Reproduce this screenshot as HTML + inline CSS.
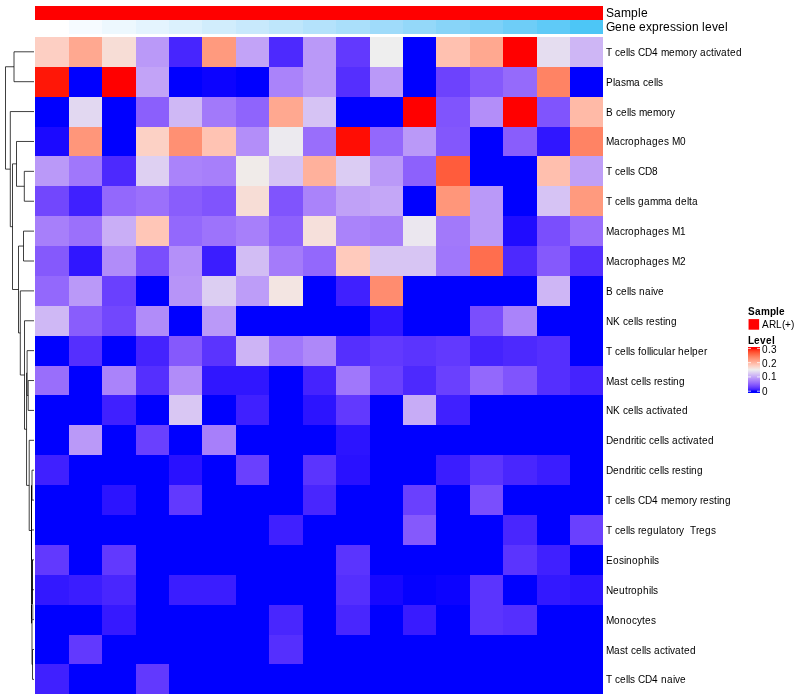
<!DOCTYPE html>
<html><head><meta charset="utf-8"><title>Heatmap</title>
<style>html,body{margin:0;padding:0;background:#fff}svg{display:block}text{white-space:pre;font-family:"Liberation Sans",sans-serif;fill:#000}</style></head><body>
<svg width="800" height="700" viewBox="0 0 800 700">
<rect width="800" height="700" fill="#fff"/>
<g shape-rendering="crispEdges">
<rect x="35" y="6" width="568" height="14" fill="#FF0000"/>
<rect x="35" y="20" width="34" height="14" fill="#FFFFFF"/>
<rect x="69" y="20" width="33" height="14" fill="#F6FBFF"/>
<rect x="102" y="20" width="34" height="14" fill="#EDF8FE"/>
<rect x="136" y="20" width="33" height="14" fill="#E4F4FE"/>
<rect x="169" y="20" width="33" height="14" fill="#DBF1FD"/>
<rect x="202" y="20" width="34" height="14" fill="#D1EDFC"/>
<rect x="236" y="20" width="33" height="14" fill="#C8E9FC"/>
<rect x="269" y="20" width="34" height="14" fill="#BEE6FB"/>
<rect x="303" y="20" width="33" height="14" fill="#B4E2FB"/>
<rect x="336" y="20" width="34" height="14" fill="#AADFFA"/>
<rect x="370" y="20" width="33" height="14" fill="#9FDBFA"/>
<rect x="403" y="20" width="33" height="14" fill="#94D8F9"/>
<rect x="436" y="20" width="34" height="14" fill="#88D4F8"/>
<rect x="470" y="20" width="33" height="14" fill="#7CD1F8"/>
<rect x="503" y="20" width="34" height="14" fill="#6ECDF7"/>
<rect x="537" y="20" width="33" height="14" fill="#5FCAF7"/>
<rect x="570" y="20" width="33" height="14" fill="#4DC6F6"/>
<rect x="35" y="37" width="34" height="30" fill="#FDCFC3"/>
<rect x="69" y="37" width="33" height="30" fill="#FFA890"/>
<rect x="102" y="37" width="34" height="30" fill="#F7DDD6"/>
<rect x="136" y="37" width="33" height="30" fill="#BA99F8"/>
<rect x="169" y="37" width="33" height="30" fill="#4725FE"/>
<rect x="202" y="37" width="34" height="30" fill="#FF9A7E"/>
<rect x="236" y="37" width="33" height="30" fill="#C2A3F7"/>
<rect x="269" y="37" width="34" height="30" fill="#4D29FE"/>
<rect x="303" y="37" width="33" height="30" fill="#BA99F8"/>
<rect x="336" y="37" width="34" height="30" fill="#6239FE"/>
<rect x="370" y="37" width="33" height="30" fill="#EEEEEE"/>
<rect x="403" y="37" width="33" height="30" fill="#0000FF"/>
<rect x="436" y="37" width="34" height="30" fill="#FFC1B0"/>
<rect x="470" y="37" width="33" height="30" fill="#FFA890"/>
<rect x="503" y="37" width="34" height="30" fill="#FF0000"/>
<rect x="537" y="37" width="33" height="30" fill="#E5DDF0"/>
<rect x="570" y="37" width="33" height="30" fill="#CEB6F5"/>
<rect x="35" y="67" width="34" height="30" fill="#FF1707"/>
<rect x="69" y="67" width="33" height="30" fill="#0000FF"/>
<rect x="102" y="67" width="34" height="30" fill="#FF0000"/>
<rect x="136" y="67" width="33" height="30" fill="#C2A3F7"/>
<rect x="169" y="67" width="33" height="30" fill="#0000FF"/>
<rect x="202" y="67" width="34" height="30" fill="#0C03FF"/>
<rect x="236" y="67" width="33" height="30" fill="#0000FF"/>
<rect x="269" y="67" width="34" height="30" fill="#AA83FA"/>
<rect x="303" y="67" width="33" height="30" fill="#BA99F8"/>
<rect x="336" y="67" width="34" height="30" fill="#552FFE"/>
<rect x="370" y="67" width="33" height="30" fill="#BA99F8"/>
<rect x="403" y="67" width="33" height="30" fill="#0000FF"/>
<rect x="436" y="67" width="34" height="30" fill="#6D42FD"/>
<rect x="470" y="67" width="33" height="30" fill="#8559FC"/>
<rect x="503" y="67" width="34" height="30" fill="#956AFB"/>
<rect x="537" y="67" width="33" height="30" fill="#FF8364"/>
<rect x="570" y="67" width="33" height="30" fill="#0000FF"/>
<rect x="35" y="97" width="34" height="30" fill="#0000FF"/>
<rect x="69" y="97" width="33" height="30" fill="#E2D8F1"/>
<rect x="102" y="97" width="34" height="30" fill="#0000FF"/>
<rect x="136" y="97" width="33" height="30" fill="#8B5FFC"/>
<rect x="169" y="97" width="33" height="30" fill="#CFB8F5"/>
<rect x="202" y="97" width="34" height="30" fill="#A279FA"/>
<rect x="236" y="97" width="33" height="30" fill="#8F64FC"/>
<rect x="269" y="97" width="34" height="30" fill="#FFA890"/>
<rect x="303" y="97" width="33" height="30" fill="#D6C3F4"/>
<rect x="336" y="97" width="34" height="30" fill="#0000FF"/>
<rect x="370" y="97" width="33" height="30" fill="#0000FF"/>
<rect x="403" y="97" width="33" height="30" fill="#FF0000"/>
<rect x="436" y="97" width="34" height="30" fill="#8054FD"/>
<rect x="470" y="97" width="33" height="30" fill="#B38EF9"/>
<rect x="503" y="97" width="34" height="30" fill="#FF0000"/>
<rect x="537" y="97" width="33" height="30" fill="#8054FD"/>
<rect x="570" y="97" width="33" height="30" fill="#FFBAA7"/>
<rect x="35" y="127" width="34" height="29" fill="#1B09FF"/>
<rect x="69" y="127" width="33" height="29" fill="#FF967A"/>
<rect x="102" y="127" width="34" height="29" fill="#0000FF"/>
<rect x="136" y="127" width="33" height="29" fill="#FCD1C5"/>
<rect x="169" y="127" width="33" height="29" fill="#FF9073"/>
<rect x="202" y="127" width="34" height="29" fill="#FFC3B3"/>
<rect x="236" y="127" width="33" height="29" fill="#B38EF9"/>
<rect x="269" y="127" width="34" height="29" fill="#ECEAEF"/>
<rect x="303" y="127" width="33" height="29" fill="#996EFB"/>
<rect x="336" y="127" width="34" height="29" fill="#FF0D04"/>
<rect x="370" y="127" width="33" height="29" fill="#9368FC"/>
<rect x="403" y="127" width="33" height="29" fill="#BA99F8"/>
<rect x="436" y="127" width="34" height="29" fill="#8357FC"/>
<rect x="470" y="127" width="33" height="29" fill="#0000FF"/>
<rect x="503" y="127" width="34" height="29" fill="#895DFC"/>
<rect x="537" y="127" width="33" height="29" fill="#3016FF"/>
<rect x="570" y="127" width="33" height="29" fill="#FF8364"/>
<rect x="35" y="156" width="34" height="30" fill="#BA99F8"/>
<rect x="69" y="156" width="33" height="30" fill="#A077FB"/>
<rect x="102" y="156" width="34" height="30" fill="#4D29FE"/>
<rect x="136" y="156" width="33" height="30" fill="#DED0F2"/>
<rect x="169" y="156" width="33" height="30" fill="#AA83FA"/>
<rect x="202" y="156" width="34" height="30" fill="#A77FFA"/>
<rect x="236" y="156" width="33" height="30" fill="#F0EBE9"/>
<rect x="269" y="156" width="34" height="30" fill="#D6C3F4"/>
<rect x="303" y="156" width="33" height="30" fill="#FFB19C"/>
<rect x="336" y="156" width="34" height="30" fill="#DBCCF3"/>
<rect x="370" y="156" width="33" height="30" fill="#BA99F8"/>
<rect x="403" y="156" width="33" height="30" fill="#8D61FC"/>
<rect x="436" y="156" width="34" height="30" fill="#FF5C3C"/>
<rect x="470" y="156" width="33" height="30" fill="#0000FF"/>
<rect x="503" y="156" width="34" height="30" fill="#0000FF"/>
<rect x="537" y="156" width="33" height="30" fill="#FFBFAE"/>
<rect x="570" y="156" width="33" height="30" fill="#BF9FF7"/>
<rect x="35" y="186" width="34" height="30" fill="#7247FD"/>
<rect x="69" y="186" width="33" height="30" fill="#4020FF"/>
<rect x="102" y="186" width="34" height="30" fill="#9368FC"/>
<rect x="136" y="186" width="33" height="30" fill="#9B70FB"/>
<rect x="169" y="186" width="33" height="30" fill="#895DFC"/>
<rect x="202" y="186" width="34" height="30" fill="#8054FD"/>
<rect x="236" y="186" width="33" height="30" fill="#F7DDD6"/>
<rect x="269" y="186" width="34" height="30" fill="#8054FD"/>
<rect x="303" y="186" width="33" height="30" fill="#AA83FA"/>
<rect x="336" y="186" width="34" height="30" fill="#C0A1F7"/>
<rect x="370" y="186" width="33" height="30" fill="#C4A7F7"/>
<rect x="403" y="186" width="33" height="30" fill="#0000FF"/>
<rect x="436" y="186" width="34" height="30" fill="#FF967A"/>
<rect x="470" y="186" width="33" height="30" fill="#BA99F8"/>
<rect x="503" y="186" width="34" height="30" fill="#0000FF"/>
<rect x="537" y="186" width="33" height="30" fill="#D6C3F4"/>
<rect x="570" y="186" width="33" height="30" fill="#FF9A7E"/>
<rect x="35" y="216" width="34" height="30" fill="#A77FFA"/>
<rect x="69" y="216" width="33" height="30" fill="#9B70FB"/>
<rect x="102" y="216" width="34" height="30" fill="#C9AEF6"/>
<rect x="136" y="216" width="33" height="30" fill="#FFC6B7"/>
<rect x="169" y="216" width="33" height="30" fill="#9368FC"/>
<rect x="202" y="216" width="34" height="30" fill="#9D73FB"/>
<rect x="236" y="216" width="33" height="30" fill="#A77FFA"/>
<rect x="269" y="216" width="34" height="30" fill="#8D61FC"/>
<rect x="303" y="216" width="33" height="30" fill="#F6E0DB"/>
<rect x="336" y="216" width="34" height="30" fill="#AA83FA"/>
<rect x="370" y="216" width="33" height="30" fill="#A57DFA"/>
<rect x="403" y="216" width="33" height="30" fill="#EBE7EF"/>
<rect x="436" y="216" width="34" height="30" fill="#A279FA"/>
<rect x="470" y="216" width="33" height="30" fill="#BA99F8"/>
<rect x="503" y="216" width="34" height="30" fill="#200CFF"/>
<rect x="537" y="216" width="33" height="30" fill="#7A4EFD"/>
<rect x="570" y="216" width="33" height="30" fill="#996EFB"/>
<rect x="35" y="246" width="34" height="30" fill="#8559FC"/>
<rect x="69" y="246" width="33" height="30" fill="#3016FF"/>
<rect x="102" y="246" width="34" height="30" fill="#B18CF9"/>
<rect x="136" y="246" width="33" height="30" fill="#7A4EFD"/>
<rect x="169" y="246" width="33" height="30" fill="#B490F9"/>
<rect x="202" y="246" width="34" height="30" fill="#3B1DFF"/>
<rect x="236" y="246" width="33" height="30" fill="#D2BDF4"/>
<rect x="269" y="246" width="34" height="30" fill="#A47BFA"/>
<rect x="303" y="246" width="33" height="30" fill="#9368FC"/>
<rect x="336" y="246" width="34" height="30" fill="#FFCABC"/>
<rect x="370" y="246" width="33" height="30" fill="#D7C5F3"/>
<rect x="403" y="246" width="33" height="30" fill="#D7C5F3"/>
<rect x="436" y="246" width="34" height="30" fill="#A077FB"/>
<rect x="470" y="246" width="33" height="30" fill="#FF6E4E"/>
<rect x="503" y="246" width="34" height="30" fill="#4D29FE"/>
<rect x="537" y="246" width="33" height="30" fill="#8559FC"/>
<rect x="570" y="246" width="33" height="30" fill="#552FFE"/>
<rect x="35" y="276" width="34" height="30" fill="#9368FC"/>
<rect x="69" y="276" width="33" height="30" fill="#BA99F8"/>
<rect x="102" y="276" width="34" height="30" fill="#6A40FE"/>
<rect x="136" y="276" width="33" height="30" fill="#0000FF"/>
<rect x="169" y="276" width="33" height="30" fill="#B794F8"/>
<rect x="202" y="276" width="34" height="30" fill="#DCCEF2"/>
<rect x="236" y="276" width="33" height="30" fill="#BD9DF8"/>
<rect x="269" y="276" width="34" height="30" fill="#F3E5E2"/>
<rect x="303" y="276" width="33" height="30" fill="#0000FF"/>
<rect x="336" y="276" width="34" height="30" fill="#4020FF"/>
<rect x="370" y="276" width="33" height="30" fill="#FF8C6F"/>
<rect x="403" y="276" width="33" height="30" fill="#0000FF"/>
<rect x="436" y="276" width="34" height="30" fill="#0000FF"/>
<rect x="470" y="276" width="33" height="30" fill="#0000FF"/>
<rect x="503" y="276" width="34" height="30" fill="#0000FF"/>
<rect x="537" y="276" width="33" height="30" fill="#CEB6F5"/>
<rect x="570" y="276" width="33" height="30" fill="#0000FF"/>
<rect x="35" y="306" width="34" height="30" fill="#CFB8F5"/>
<rect x="69" y="306" width="33" height="30" fill="#895DFC"/>
<rect x="102" y="306" width="34" height="30" fill="#7247FD"/>
<rect x="136" y="306" width="33" height="30" fill="#B18CF9"/>
<rect x="169" y="306" width="33" height="30" fill="#0000FF"/>
<rect x="202" y="306" width="34" height="30" fill="#BA99F8"/>
<rect x="236" y="306" width="33" height="30" fill="#0000FF"/>
<rect x="269" y="306" width="34" height="30" fill="#0000FF"/>
<rect x="303" y="306" width="33" height="30" fill="#0000FF"/>
<rect x="336" y="306" width="34" height="30" fill="#0000FF"/>
<rect x="370" y="306" width="33" height="30" fill="#3016FF"/>
<rect x="403" y="306" width="33" height="30" fill="#0000FF"/>
<rect x="436" y="306" width="34" height="30" fill="#0000FF"/>
<rect x="470" y="306" width="33" height="30" fill="#7A4EFD"/>
<rect x="503" y="306" width="34" height="30" fill="#AA83FA"/>
<rect x="537" y="306" width="33" height="30" fill="#0000FF"/>
<rect x="570" y="306" width="33" height="30" fill="#0000FF"/>
<rect x="35" y="336" width="34" height="30" fill="#0000FF"/>
<rect x="69" y="336" width="33" height="30" fill="#552FFE"/>
<rect x="102" y="336" width="34" height="30" fill="#0000FF"/>
<rect x="136" y="336" width="33" height="30" fill="#4523FE"/>
<rect x="169" y="336" width="33" height="30" fill="#8559FC"/>
<rect x="202" y="336" width="34" height="30" fill="#5B34FE"/>
<rect x="236" y="336" width="33" height="30" fill="#CDB4F5"/>
<rect x="269" y="336" width="34" height="30" fill="#A077FB"/>
<rect x="303" y="336" width="33" height="30" fill="#AE88F9"/>
<rect x="336" y="336" width="34" height="30" fill="#552FFE"/>
<rect x="370" y="336" width="33" height="30" fill="#6239FE"/>
<rect x="403" y="336" width="33" height="30" fill="#5B34FE"/>
<rect x="436" y="336" width="34" height="30" fill="#6239FE"/>
<rect x="470" y="336" width="33" height="30" fill="#4523FE"/>
<rect x="503" y="336" width="34" height="30" fill="#4D29FE"/>
<rect x="537" y="336" width="33" height="30" fill="#552FFE"/>
<rect x="570" y="336" width="33" height="30" fill="#0000FF"/>
<rect x="35" y="366" width="34" height="29" fill="#996EFB"/>
<rect x="69" y="366" width="33" height="29" fill="#0000FF"/>
<rect x="102" y="366" width="34" height="29" fill="#AA83FA"/>
<rect x="136" y="366" width="33" height="29" fill="#552FFE"/>
<rect x="169" y="366" width="33" height="29" fill="#B18CF9"/>
<rect x="202" y="366" width="34" height="29" fill="#3016FF"/>
<rect x="236" y="366" width="33" height="29" fill="#3016FF"/>
<rect x="269" y="366" width="34" height="29" fill="#0000FF"/>
<rect x="303" y="366" width="33" height="29" fill="#4523FE"/>
<rect x="336" y="366" width="34" height="29" fill="#A077FB"/>
<rect x="370" y="366" width="33" height="29" fill="#6A40FE"/>
<rect x="403" y="366" width="33" height="29" fill="#4D29FE"/>
<rect x="436" y="366" width="34" height="29" fill="#6A40FE"/>
<rect x="470" y="366" width="33" height="29" fill="#9368FC"/>
<rect x="503" y="366" width="34" height="29" fill="#8054FD"/>
<rect x="537" y="366" width="33" height="29" fill="#552FFE"/>
<rect x="570" y="366" width="33" height="29" fill="#4523FE"/>
<rect x="35" y="395" width="34" height="30" fill="#0000FF"/>
<rect x="69" y="395" width="33" height="30" fill="#0000FF"/>
<rect x="102" y="395" width="34" height="30" fill="#4020FF"/>
<rect x="136" y="395" width="33" height="30" fill="#0000FF"/>
<rect x="169" y="395" width="33" height="30" fill="#D9C7F3"/>
<rect x="202" y="395" width="34" height="30" fill="#0000FF"/>
<rect x="236" y="395" width="33" height="30" fill="#4020FF"/>
<rect x="269" y="395" width="34" height="30" fill="#0000FF"/>
<rect x="303" y="395" width="33" height="30" fill="#2C14FF"/>
<rect x="336" y="395" width="34" height="30" fill="#6239FE"/>
<rect x="370" y="395" width="33" height="30" fill="#0000FF"/>
<rect x="403" y="395" width="33" height="30" fill="#C7ACF6"/>
<rect x="436" y="395" width="34" height="30" fill="#4020FF"/>
<rect x="470" y="395" width="33" height="30" fill="#0000FF"/>
<rect x="503" y="395" width="34" height="30" fill="#0000FF"/>
<rect x="537" y="395" width="33" height="30" fill="#0000FF"/>
<rect x="570" y="395" width="33" height="30" fill="#0000FF"/>
<rect x="35" y="425" width="34" height="30" fill="#0000FF"/>
<rect x="69" y="425" width="33" height="30" fill="#BA99F8"/>
<rect x="102" y="425" width="34" height="30" fill="#0000FF"/>
<rect x="136" y="425" width="33" height="30" fill="#6A40FE"/>
<rect x="169" y="425" width="33" height="30" fill="#0000FF"/>
<rect x="202" y="425" width="34" height="30" fill="#A77FFA"/>
<rect x="236" y="425" width="33" height="30" fill="#0000FF"/>
<rect x="269" y="425" width="34" height="30" fill="#0000FF"/>
<rect x="303" y="425" width="33" height="30" fill="#0000FF"/>
<rect x="336" y="425" width="34" height="30" fill="#2C14FF"/>
<rect x="370" y="425" width="33" height="30" fill="#0000FF"/>
<rect x="403" y="425" width="33" height="30" fill="#0000FF"/>
<rect x="436" y="425" width="34" height="30" fill="#0000FF"/>
<rect x="470" y="425" width="33" height="30" fill="#0000FF"/>
<rect x="503" y="425" width="34" height="30" fill="#0000FF"/>
<rect x="537" y="425" width="33" height="30" fill="#0000FF"/>
<rect x="570" y="425" width="33" height="30" fill="#0000FF"/>
<rect x="35" y="455" width="34" height="30" fill="#4020FF"/>
<rect x="69" y="455" width="33" height="30" fill="#0000FF"/>
<rect x="102" y="455" width="34" height="30" fill="#0000FF"/>
<rect x="136" y="455" width="33" height="30" fill="#0000FF"/>
<rect x="169" y="455" width="33" height="30" fill="#2911FF"/>
<rect x="202" y="455" width="34" height="30" fill="#0000FF"/>
<rect x="236" y="455" width="33" height="30" fill="#6A40FE"/>
<rect x="269" y="455" width="34" height="30" fill="#0000FF"/>
<rect x="303" y="455" width="33" height="30" fill="#5B34FE"/>
<rect x="336" y="455" width="34" height="30" fill="#2911FF"/>
<rect x="370" y="455" width="33" height="30" fill="#0000FF"/>
<rect x="403" y="455" width="33" height="30" fill="#0000FF"/>
<rect x="436" y="455" width="34" height="30" fill="#3B1DFF"/>
<rect x="470" y="455" width="33" height="30" fill="#5B34FE"/>
<rect x="503" y="455" width="34" height="30" fill="#4926FE"/>
<rect x="537" y="455" width="33" height="30" fill="#3B1DFF"/>
<rect x="570" y="455" width="33" height="30" fill="#0000FF"/>
<rect x="35" y="485" width="34" height="30" fill="#0000FF"/>
<rect x="69" y="485" width="33" height="30" fill="#0000FF"/>
<rect x="102" y="485" width="34" height="30" fill="#2C14FF"/>
<rect x="136" y="485" width="33" height="30" fill="#0000FF"/>
<rect x="169" y="485" width="33" height="30" fill="#6239FE"/>
<rect x="202" y="485" width="34" height="30" fill="#0000FF"/>
<rect x="236" y="485" width="33" height="30" fill="#0000FF"/>
<rect x="269" y="485" width="34" height="30" fill="#0000FF"/>
<rect x="303" y="485" width="33" height="30" fill="#4926FE"/>
<rect x="336" y="485" width="34" height="30" fill="#0000FF"/>
<rect x="370" y="485" width="33" height="30" fill="#0000FF"/>
<rect x="403" y="485" width="33" height="30" fill="#6A40FE"/>
<rect x="436" y="485" width="34" height="30" fill="#0000FF"/>
<rect x="470" y="485" width="33" height="30" fill="#7A4EFD"/>
<rect x="503" y="485" width="34" height="30" fill="#0000FF"/>
<rect x="537" y="485" width="33" height="30" fill="#0000FF"/>
<rect x="570" y="485" width="33" height="30" fill="#0000FF"/>
<rect x="35" y="515" width="34" height="30" fill="#0000FF"/>
<rect x="69" y="515" width="33" height="30" fill="#0000FF"/>
<rect x="102" y="515" width="34" height="30" fill="#0000FF"/>
<rect x="136" y="515" width="33" height="30" fill="#0000FF"/>
<rect x="169" y="515" width="33" height="30" fill="#0000FF"/>
<rect x="202" y="515" width="34" height="30" fill="#0000FF"/>
<rect x="236" y="515" width="33" height="30" fill="#0000FF"/>
<rect x="269" y="515" width="34" height="30" fill="#4020FF"/>
<rect x="303" y="515" width="33" height="30" fill="#0000FF"/>
<rect x="336" y="515" width="34" height="30" fill="#0000FF"/>
<rect x="370" y="515" width="33" height="30" fill="#0000FF"/>
<rect x="403" y="515" width="33" height="30" fill="#8559FC"/>
<rect x="436" y="515" width="34" height="30" fill="#0000FF"/>
<rect x="470" y="515" width="33" height="30" fill="#0000FF"/>
<rect x="503" y="515" width="34" height="30" fill="#4926FE"/>
<rect x="537" y="515" width="33" height="30" fill="#0000FF"/>
<rect x="570" y="515" width="33" height="30" fill="#6A40FE"/>
<rect x="35" y="545" width="34" height="30" fill="#6239FE"/>
<rect x="69" y="545" width="33" height="30" fill="#0000FF"/>
<rect x="102" y="545" width="34" height="30" fill="#6239FE"/>
<rect x="136" y="545" width="33" height="30" fill="#0000FF"/>
<rect x="169" y="545" width="33" height="30" fill="#0000FF"/>
<rect x="202" y="545" width="34" height="30" fill="#0000FF"/>
<rect x="236" y="545" width="33" height="30" fill="#0000FF"/>
<rect x="269" y="545" width="34" height="30" fill="#0000FF"/>
<rect x="303" y="545" width="33" height="30" fill="#0000FF"/>
<rect x="336" y="545" width="34" height="30" fill="#5B34FE"/>
<rect x="370" y="545" width="33" height="30" fill="#0000FF"/>
<rect x="403" y="545" width="33" height="30" fill="#0000FF"/>
<rect x="436" y="545" width="34" height="30" fill="#0000FF"/>
<rect x="470" y="545" width="33" height="30" fill="#0000FF"/>
<rect x="503" y="545" width="34" height="30" fill="#5B34FE"/>
<rect x="537" y="545" width="33" height="30" fill="#4020FF"/>
<rect x="570" y="545" width="33" height="30" fill="#0000FF"/>
<rect x="35" y="575" width="34" height="30" fill="#3318FF"/>
<rect x="69" y="575" width="33" height="30" fill="#3B1DFF"/>
<rect x="102" y="575" width="34" height="30" fill="#4926FE"/>
<rect x="136" y="575" width="33" height="30" fill="#0000FF"/>
<rect x="169" y="575" width="33" height="30" fill="#3B1DFF"/>
<rect x="202" y="575" width="34" height="30" fill="#3B1DFF"/>
<rect x="236" y="575" width="33" height="30" fill="#0000FF"/>
<rect x="269" y="575" width="34" height="30" fill="#0000FF"/>
<rect x="303" y="575" width="33" height="30" fill="#0000FF"/>
<rect x="336" y="575" width="34" height="30" fill="#552FFE"/>
<rect x="370" y="575" width="33" height="30" fill="#1707FF"/>
<rect x="403" y="575" width="33" height="30" fill="#0501FF"/>
<rect x="436" y="575" width="34" height="30" fill="#0C03FF"/>
<rect x="470" y="575" width="33" height="30" fill="#5B34FE"/>
<rect x="503" y="575" width="34" height="30" fill="#0000FF"/>
<rect x="537" y="575" width="33" height="30" fill="#3318FF"/>
<rect x="570" y="575" width="33" height="30" fill="#2C14FF"/>
<rect x="35" y="605" width="34" height="30" fill="#0000FF"/>
<rect x="69" y="605" width="33" height="30" fill="#0000FF"/>
<rect x="102" y="605" width="34" height="30" fill="#3619FF"/>
<rect x="136" y="605" width="33" height="30" fill="#0000FF"/>
<rect x="169" y="605" width="33" height="30" fill="#0000FF"/>
<rect x="202" y="605" width="34" height="30" fill="#0000FF"/>
<rect x="236" y="605" width="33" height="30" fill="#0000FF"/>
<rect x="269" y="605" width="34" height="30" fill="#4926FE"/>
<rect x="303" y="605" width="33" height="30" fill="#0000FF"/>
<rect x="336" y="605" width="34" height="30" fill="#4926FE"/>
<rect x="370" y="605" width="33" height="30" fill="#0000FF"/>
<rect x="403" y="605" width="33" height="30" fill="#391BFF"/>
<rect x="436" y="605" width="34" height="30" fill="#0000FF"/>
<rect x="470" y="605" width="33" height="30" fill="#5B34FE"/>
<rect x="503" y="605" width="34" height="30" fill="#552FFE"/>
<rect x="537" y="605" width="33" height="30" fill="#0000FF"/>
<rect x="570" y="605" width="33" height="30" fill="#0000FF"/>
<rect x="35" y="635" width="34" height="29" fill="#0000FF"/>
<rect x="69" y="635" width="33" height="29" fill="#6239FE"/>
<rect x="102" y="635" width="34" height="29" fill="#0000FF"/>
<rect x="136" y="635" width="33" height="29" fill="#0000FF"/>
<rect x="169" y="635" width="33" height="29" fill="#0000FF"/>
<rect x="202" y="635" width="34" height="29" fill="#0000FF"/>
<rect x="236" y="635" width="33" height="29" fill="#0000FF"/>
<rect x="269" y="635" width="34" height="29" fill="#552FFE"/>
<rect x="303" y="635" width="33" height="29" fill="#0000FF"/>
<rect x="336" y="635" width="34" height="29" fill="#0000FF"/>
<rect x="370" y="635" width="33" height="29" fill="#0000FF"/>
<rect x="403" y="635" width="33" height="29" fill="#0000FF"/>
<rect x="436" y="635" width="34" height="29" fill="#0000FF"/>
<rect x="470" y="635" width="33" height="29" fill="#0000FF"/>
<rect x="503" y="635" width="34" height="29" fill="#0000FF"/>
<rect x="537" y="635" width="33" height="29" fill="#0000FF"/>
<rect x="570" y="635" width="33" height="29" fill="#0000FF"/>
<rect x="35" y="664" width="34" height="30" fill="#4020FF"/>
<rect x="69" y="664" width="33" height="30" fill="#0000FF"/>
<rect x="102" y="664" width="34" height="30" fill="#0000FF"/>
<rect x="136" y="664" width="33" height="30" fill="#6239FE"/>
<rect x="169" y="664" width="33" height="30" fill="#0000FF"/>
<rect x="202" y="664" width="34" height="30" fill="#0000FF"/>
<rect x="236" y="664" width="33" height="30" fill="#0000FF"/>
<rect x="269" y="664" width="34" height="30" fill="#0000FF"/>
<rect x="303" y="664" width="33" height="30" fill="#0000FF"/>
<rect x="336" y="664" width="34" height="30" fill="#0000FF"/>
<rect x="370" y="664" width="33" height="30" fill="#0000FF"/>
<rect x="403" y="664" width="33" height="30" fill="#0000FF"/>
<rect x="436" y="664" width="34" height="30" fill="#0000FF"/>
<rect x="470" y="664" width="33" height="30" fill="#0000FF"/>
<rect x="503" y="664" width="34" height="30" fill="#0000FF"/>
<rect x="537" y="664" width="33" height="30" fill="#0000FF"/>
<rect x="570" y="664" width="33" height="30" fill="#0000FF"/>
</g>
<text x="606 614 621 631 638 641" y="17" font-size="12" xml:space="preserve">Sample</text>
<text x="606 615 622 629 636 639 646 652 659 663 670 676 682 685 692 699 702 705 712 718 725" y="31" font-size="12" xml:space="preserve">Gene expression level</text>
<g font-size="10">
<text x="606 612 615 620 626 628 630 635 638 645 652 658 661 669 675 683 689 692 697 700 706 711 714 716 721 727 730 736" y="56" font-size="10" xml:space="preserve">T cells CD4 memory activated</text>
<text x="606 613 615 621 626 634 640 643 648 654 656 658" y="86" font-size="10" xml:space="preserve">Plasma cells</text>
<text x="606 613 616 621 627 629 631 636 639 647 653 661 667 670" y="116" font-size="10" xml:space="preserve">B cells memory</text>
<text x="606 614 620 625 628 634 640 646 652 658 664 669 672 680" y="145" font-size="10" xml:space="preserve">Macrophages M0</text>
<text x="606 612 615 620 626 628 630 635 638 645 652" y="175" font-size="10" xml:space="preserve">T cells CD8</text>
<text x="606 612 615 620 626 628 630 635 638 644 650 658 666 672 675 681 687 689 692" y="205" font-size="10" xml:space="preserve">T cells gamma delta</text>
<text x="606 614 620 625 628 634 640 646 652 658 664 669 672 680" y="235" font-size="10" xml:space="preserve">Macrophages M1</text>
<text x="606 614 620 625 628 634 640 646 652 658 664 669 672 680" y="265" font-size="10" xml:space="preserve">Macrophages M2</text>
<text x="606 613 616 621 627 629 631 636 639 645 651 653 658" y="295" font-size="10" xml:space="preserve">B cells naive</text>
<text x="606 613 620 623 628 634 636 638 643 646 649 655 660 663 665 671" y="325" font-size="10" xml:space="preserve">NK cells resting</text>
<text x="606 612 615 620 626 628 630 635 638 641 647 649 651 653 658 664 666 672 675 678 684 690 692 698 704" y="355" font-size="10" xml:space="preserve">T cells follicular helper</text>
<text x="606 614 620 625 628 631 636 642 644 646 651 654 657 663 668 671 673 679" y="385" font-size="10" xml:space="preserve">Mast cells resting</text>
<text x="606 613 620 623 628 634 636 638 643 646 652 657 660 662 667 673 676 682" y="414" font-size="10" xml:space="preserve">NK cells activated</text>
<text x="606 613 619 625 631 634 636 639 641 646 649 654 660 662 664 669 672 678 683 686 688 693 699 702 708" y="444" font-size="10" xml:space="preserve">Dendritic cells activated</text>
<text x="606 613 619 625 631 634 636 639 641 646 649 654 660 662 664 669 672 675 681 686 689 691 697" y="474" font-size="10" xml:space="preserve">Dendritic cells resting</text>
<text x="606 612 615 620 626 628 630 635 638 645 652 658 661 669 675 683 689 692 697 700 703 709 714 717 719 725" y="504" font-size="10" xml:space="preserve">T cells CD4 memory resting</text>
<text x="606 612 615 620 626 628 630 635 638 641 647 653 659 661 667 670 676 679 684 687 690 696 699 705 711" y="534" font-size="10" xml:space="preserve">T cells regulatory  Tregs</text>
<text x="606 613 619 624 626 632 638 644 650 652 654" y="564" font-size="10" xml:space="preserve">Eosinophils</text>
<text x="606 613 619 625 628 631 637 643 649 651 653" y="594" font-size="10" xml:space="preserve">Neutrophils</text>
<text x="606 614 620 626 632 637 642 645 651" y="624" font-size="10" xml:space="preserve">Monocytes</text>
<text x="606 614 620 625 628 631 636 642 644 646 651 654 660 665 668 670 675 681 684 690" y="654" font-size="10" xml:space="preserve">Mast cells activated</text>
<text x="606 612 615 620 626 628 630 635 638 645 652 658 661 667 673 675 680" y="683" font-size="10" xml:space="preserve">T cells CD4 naive</text>
</g>
<path d="M34.00 51.80H14.00V81.69H34.00M34.00 171.34H24.30V201.23H34.00M34.00 141.46H16.50V186.29H24.30M34.00 231.11H23.50V261.00H34.00M34.00 380.54H28.20V410.42H34.00M34.00 350.65H27.10V395.48H28.20M34.00 470.19H32.00V500.08H34.00M34.00 649.50H32.50V679.39H34.00M32.00 623.50H32.00V664.45H32.50M34.00 529.96H31.5M34.00 559.85H31.5M34.00 589.73H31.5M34.00 619.62H31.5M32 485.4H31.5M34.00 440.31H29.20V530.50H31.50M27.10 373.07H26.55V485.40H29.20M34.00 320.77H24.50V429.24H26.55M34.00 290.88H20.30V375.00H24.50M23.50 246.06H18.50V332.94H20.30M16.50 163.87H12.50V289.50H18.50M34.00 111.57H10.30V226.68H12.50M14.00 66.75H5.50V169.13H10.30" stroke="#000" stroke-width="0.75" fill="none" stroke-linejoin="miter"/>
<path d="M31.5 485.4V560" stroke="#000" stroke-width="1" fill="none"/>
<path d="M32 560V604.5" stroke="#000" stroke-width="1.8" fill="none"/>
<path d="M31.65 604.5V619.7" stroke="#000" stroke-width="1.3" fill="none"/>
<path d="M32.85 604.5V619.7" stroke="#777" stroke-width="1" fill="none"/>
<path d="M31.75 619.7V623.5" stroke="#000" stroke-width="1.4" fill="none"/>
<g font-size="10">
<text x="748 755 761 770 776 779" y="315" font-size="10" font-weight="bold" xml:space="preserve">Sample</text>
<rect x="748.55" y="319.1" width="10.6" height="10.6" fill="#FF0000"/>
<text x="762 769 776 782 785 791" y="328" font-size="10" xml:space="preserve">ARL(+)</text>
<text x="748 754 760 766 772" y="344" font-size="10" font-weight="bold" xml:space="preserve">Level</text>
<defs><linearGradient id="lg" gradientUnits="userSpaceOnUse" x1="0" y1="348.4" x2="0" y2="391.2"><stop offset="0.0000" stop-color="#FF0000"/><stop offset="0.0333" stop-color="#FF2F17"/><stop offset="0.0667" stop-color="#FF4628"/><stop offset="0.1000" stop-color="#FF5837"/><stop offset="0.1333" stop-color="#FF6746"/><stop offset="0.1667" stop-color="#FF7555"/><stop offset="0.2000" stop-color="#FF8364"/><stop offset="0.2333" stop-color="#FF9072"/><stop offset="0.2667" stop-color="#FF9C81"/><stop offset="0.3000" stop-color="#FFA890"/><stop offset="0.3333" stop-color="#FFB49F"/><stop offset="0.3667" stop-color="#FFC0AF"/><stop offset="0.4000" stop-color="#FECCBE"/><stop offset="0.4333" stop-color="#FAD7CE"/><stop offset="0.4667" stop-color="#F5E3DE"/><stop offset="0.5000" stop-color="#EEEEEE"/><stop offset="0.5333" stop-color="#E6E0F0"/><stop offset="0.5667" stop-color="#DED1F2"/><stop offset="0.6000" stop-color="#D6C3F4"/><stop offset="0.6333" stop-color="#CDB5F5"/><stop offset="0.6667" stop-color="#C4A7F7"/><stop offset="0.7000" stop-color="#BA99F8"/><stop offset="0.7333" stop-color="#B08AF9"/><stop offset="0.7667" stop-color="#A57CFA"/><stop offset="0.8000" stop-color="#996EFB"/><stop offset="0.8333" stop-color="#8C60FC"/><stop offset="0.8667" stop-color="#7D51FD"/><stop offset="0.9000" stop-color="#6D42FD"/><stop offset="0.9333" stop-color="#5932FE"/><stop offset="0.9667" stop-color="#3F1FFF"/><stop offset="1.0000" stop-color="#0000FF"/></linearGradient></defs>
<rect x="748" y="347" width="12" height="46" fill="url(#lg)" shape-rendering="crispEdges"/>
<path d="M748 348.40h3M757 348.40h3" stroke="#fff" stroke-width="0.75"/>
<path d="M748 362.67h3M757 362.67h3" stroke="#fff" stroke-width="0.75"/>
<path d="M748 376.93h3M757 376.93h3" stroke="#fff" stroke-width="0.75"/>
<path d="M748 391.20h3M757 391.20h3" stroke="#fff" stroke-width="0.75"/>
<text x="762 768 771" y="353" font-size="10" xml:space="preserve">0.3</text>
<text x="762 768 771" y="367" font-size="10" xml:space="preserve">0.2</text>
<text x="762 768 771" y="380" font-size="10" xml:space="preserve">0.1</text>
<text x="762" y="395" font-size="10" xml:space="preserve">0</text>
</g>
</svg></body></html>
